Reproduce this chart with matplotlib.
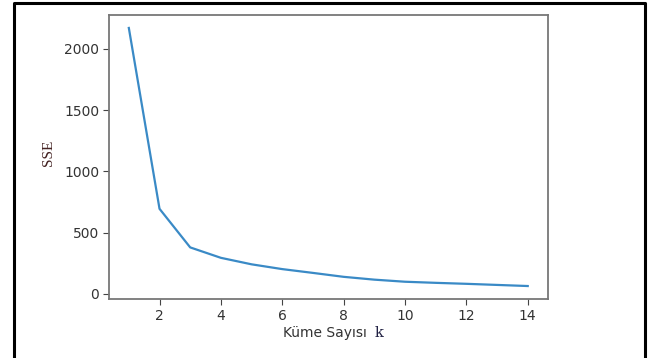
import matplotlib
matplotlib.use("Agg")
import matplotlib.pyplot as plt
from matplotlib.lines import Line2D

# elbow curve values
k_values = [1, 2, 3, 4, 5, 6, 7, 8, 9, 10, 11, 12, 13, 14]
sse = [2170, 695, 380, 295, 242, 203, 172, 140, 117, 100, 91, 83, 74, 65]

fig = plt.figure(figsize=(6.52, 3.58), dpi=100)
ax = fig.add_axes([0.167, 0.165, 0.673, 0.793])

ax.plot(k_values, sse, color="#3a8ac6", linewidth=1.6)
ax.set_xticks([2, 4, 6, 8, 10, 12, 14])
ax.set_yticks([0, 500, 1000, 1500, 2000])

for s in ax.spines.values():
    s.set_color("#777777")
    s.set_linewidth(1.3)
ax.tick_params(colors="#444444", labelsize=10, length=4, pad=3)
for t in ax.get_xticklabels() + ax.get_yticklabels():
    t.set_color("#333333")

# xlabel: sans part plus a serif k
fig.text(0.562, 0.071, "Küme Sayısı", fontsize=10, color="#333333", ha="right", va="center")
fig.text(0.574, 0.071, "k", fontsize=10.5, family="DejaVu Serif", color="#222244", ha="left", va="center")
fig.text(0.074, 0.573, "SSE", fontsize=11, family="Liberation Serif", color="#442222",
         rotation=90, ha="center", va="center")

# black frame from the screenshot (no bottom edge)
fig.lines.append(Line2D([0.0215, 0.0215, 0.9885, 0.9885], [0.0, 0.992, 0.992, 0.0],
                        transform=fig.transFigure, color="black", linewidth=2.2))

fig.savefig("out.png", dpi=100)
